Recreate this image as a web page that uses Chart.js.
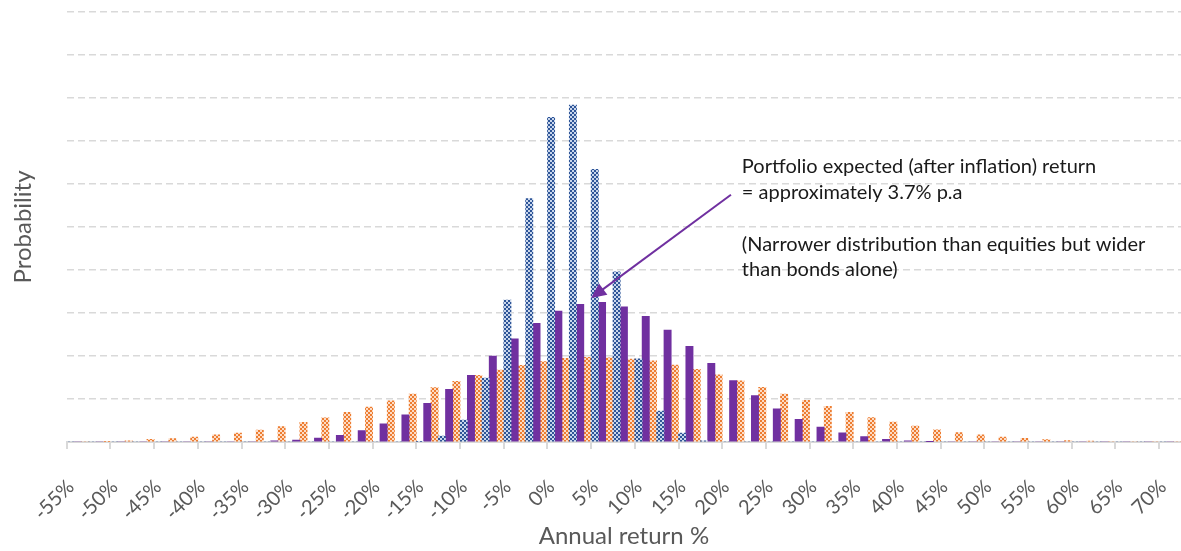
<!DOCTYPE html>
<html>
<head>
<meta charset="utf-8">
<title>Annual return distribution</title>
<script src="https://cdn.jsdelivr.net/npm/chart.js@4.4.1/dist/chart.umd.min.js"></script>
<style>
  html, body { margin: 0; padding: 0; background: #ffffff; }
  #wrap { width: 1181px; height: 551px; position: relative; }
</style>
</head>
<body>
<div id="wrap"><canvas id="returnChart"></canvas></div>
<script>
// Return buckets (annual return %, 2.5% steps)
var returnBuckets = [-55, -52.5, -50, -47.5, -45, -42.5, -40, -37.5, -35, -32.5,
    -30, -27.5, -25, -22.5, -20, -17.5, -15, -12.5, -10, -7.5,
    -5, -2.5, 0, 2.5, 5, 7.5, 10, 12.5, 15, 17.5,
    20, 22.5, 25, 27.5, 30, 32.5, 35, 37.5, 40, 42.5,
    45, 47.5, 50, 52.5, 55, 57.5, 60, 62.5, 65, 67.5, 70];

// Probability (%) per bucket
var bondValues = [0, 0, 0, 0, 0, 0, 0, 0, 0, 0,
    0, 0, 0, 0, 0, 0, 0.03, 0.27, 1.02, 2.97,
    6.6, 11.32, 15.1, 15.67, 12.68, 7.92, 3.87, 1.44, 0.41, 0.06,
    0, 0, 0, 0, 0, 0, 0, 0, 0, 0,
    0, 0, 0, 0, 0, 0, 0, 0, 0, 0, 0];

var portfolioValues = [0, 0, 0, 0, 0, 0, 0, 0, 0, 0.05,
    0.09, 0.18, 0.31, 0.53, 0.85, 1.26, 1.8, 2.45, 3.1, 4.0,
    4.8, 5.52, 6.09, 6.4, 6.5, 6.29, 5.84, 5.21, 4.45, 3.66,
    2.86, 2.16, 1.54, 1.05, 0.69, 0.43, 0.25, 0.13, 0.06, 0.02,
    0, 0, 0, 0, 0, 0, 0, 0, 0, 0, 0];

var equityValues = [0, 0.03, 0.06, 0.12, 0.16, 0.23, 0.33, 0.42, 0.56, 0.72,
    0.92, 1.12, 1.38, 1.62, 1.92, 2.23, 2.53, 2.82, 3.1, 3.35,
    3.57, 3.74, 3.89, 3.94, 3.92, 3.86, 3.77, 3.58, 3.38, 3.12,
    2.84, 2.54, 2.23, 1.94, 1.66, 1.38, 1.14, 0.93, 0.74, 0.57,
    0.44, 0.33, 0.23, 0.17, 0.11, 0.07, 0.04, 0, 0, 0, 0];

// Annotation text and arrow (in data units: bucket index, probability)
var noteLines = [
    { text: 'Portfolio expected (after inflation) return', at: [30.4, 12.8] },
    { text: '= approximately 3.7% p.a', at: [30.4, 11.6] },
    { text: '(Narrower distribution than equities but wider', at: [30.4, 9.2] },
    { text: 'than bonds alone)', at: [30.4, 8.0] }
];
var arrowFrom = [29.9, 11.5];
var arrowTo = [23.5, 6.7];

var FONT = 'Lato, "Open Sans", sans-serif';
var GREY = '#595959';
var LINE = '#d9d9d9';
var PURPLE = '#7030a0';

// Checkered fills like the Excel pattern bars
function makePattern(dark, light) {
    var c = document.createElement('canvas');
    c.width = 4;
    c.height = 4;
    var g = c.getContext('2d');
    g.fillStyle = light;
    g.fillRect(0, 0, 4, 4);
    g.fillStyle = dark;
    g.fillRect(0, 0, 2, 2);
    g.fillRect(2, 2, 2, 2);
    return g.createPattern(c, 'repeat');
}

var annotationPlugin = {
    id: 'note',
    afterDatasetsDraw: function (chart) {
        var ctx = chart.ctx;
        var x = chart.scales.x, y = chart.scales.y;
        var x1 = x.getPixelForValue(arrowFrom[0]), y1 = y.getPixelForValue(arrowFrom[1]);
        var x2 = x.getPixelForValue(arrowTo[0]), y2 = y.getPixelForValue(arrowTo[1]);
        var ang = Math.atan2(y2 - y1, x2 - x1);
        var headLen = 15, headW = 7;
        ctx.save();
        ctx.strokeStyle = PURPLE;
        ctx.fillStyle = PURPLE;
        ctx.lineWidth = 2;
        ctx.beginPath();
        ctx.moveTo(x1, y1);
        ctx.lineTo(x2 - Math.cos(ang) * headLen * 0.8, y2 - Math.sin(ang) * headLen * 0.8);
        ctx.stroke();
        ctx.beginPath();
        ctx.moveTo(x2, y2);
        ctx.lineTo(x2 - Math.cos(ang) * headLen - Math.sin(ang) * headW, y2 - Math.sin(ang) * headLen + Math.cos(ang) * headW);
        ctx.lineTo(x2 - Math.cos(ang) * headLen + Math.sin(ang) * headW, y2 - Math.sin(ang) * headLen - Math.cos(ang) * headW);
        ctx.closePath();
        ctx.fill();

        ctx.fillStyle = '#1a1a1a';
        ctx.font = '20px ' + FONT;
        ctx.textAlign = 'left';
        ctx.textBaseline = 'middle';
        noteLines.forEach(function (l) {
            ctx.fillText(l.text, x.getPixelForValue(l.at[0]), y.getPixelForValue(l.at[1]));
        });
        ctx.restore();
    }
};

var ctxReturn = document.getElementById('returnChart').getContext('2d');
var returnChart = new Chart(ctxReturn, {
    type: 'bar',
    data: {
        labels: returnBuckets,
        datasets: [{
            label: 'Bonds',
            data: bondValues,
            backgroundColor: makePattern('#2e5597', '#c9d6ec')
        }, {
            label: 'Portfolio',
            data: portfolioValues,
            backgroundColor: PURPLE
        }, {
            label: 'Equities',
            data: equityValues,
            backgroundColor: makePattern('#ed7d31', '#fcdcc6')
        }]
    },
    options: {
        responsive: true,
        maintainAspectRatio: false,
        animation: false,
        datasets: {
            bar: { categoryPercentage: 1.0, barPercentage: 1.0 }
        },
        layout: { padding: { top: 12, left: 0, right: 0, bottom: 0 } },
        plugins: {
            legend: { display: false },
            tooltip: { enabled: false }
        },
        scales: {
            x: {
                afterFit: function (scale) {
                    scale.paddingRight = 0;
                    scale.height = 109;
                },
                grid: {
                    offset: true,
                    drawOnChartArea: false,
                    drawTicks: true,
                    tickLength: 7,
                    lineWidth: 2,
                    color: function (c) { return c.index % 2 === 0 ? LINE : 'transparent'; }
                },
                border: { display: true, color: LINE, width: 2 },
                ticks: {
                    autoSkip: false,
                    minRotation: 45,
                    maxRotation: 45,
                    padding: 26,
                    labelOffset: -7,
                    color: GREY,
                    font: { family: FONT, size: 20 },
                    callback: function (val, index) {
                        return index % 2 === 0 ? this.getLabelForValue(val) + '%' : '';
                    }
                },
                title: {
                    display: true,
                    text: 'Annual return %',
                    color: GREY,
                    font: { family: FONT, size: 24 },
                    padding: { top: 0, bottom: 0 }
                }
            },
            y: {
                min: 0,
                max: 20,
                ticks: { display: false, stepSize: 2 },
                grid: {
                    drawTicks: false,
                    lineWidth: 1.5,
                    color: function (c) { return c.tick && c.tick.value === 0 ? 'transparent' : LINE; }
                },
                border: { display: false, dash: [7, 4] },
                title: {
                    display: true,
                    text: 'Probability',
                    color: GREY,
                    font: { family: FONT, size: 24 },
                    padding: { top: 9, bottom: 29 }
                }
            }
        }
    },
    plugins: [annotationPlugin]
});
</script>
</body>
</html>
